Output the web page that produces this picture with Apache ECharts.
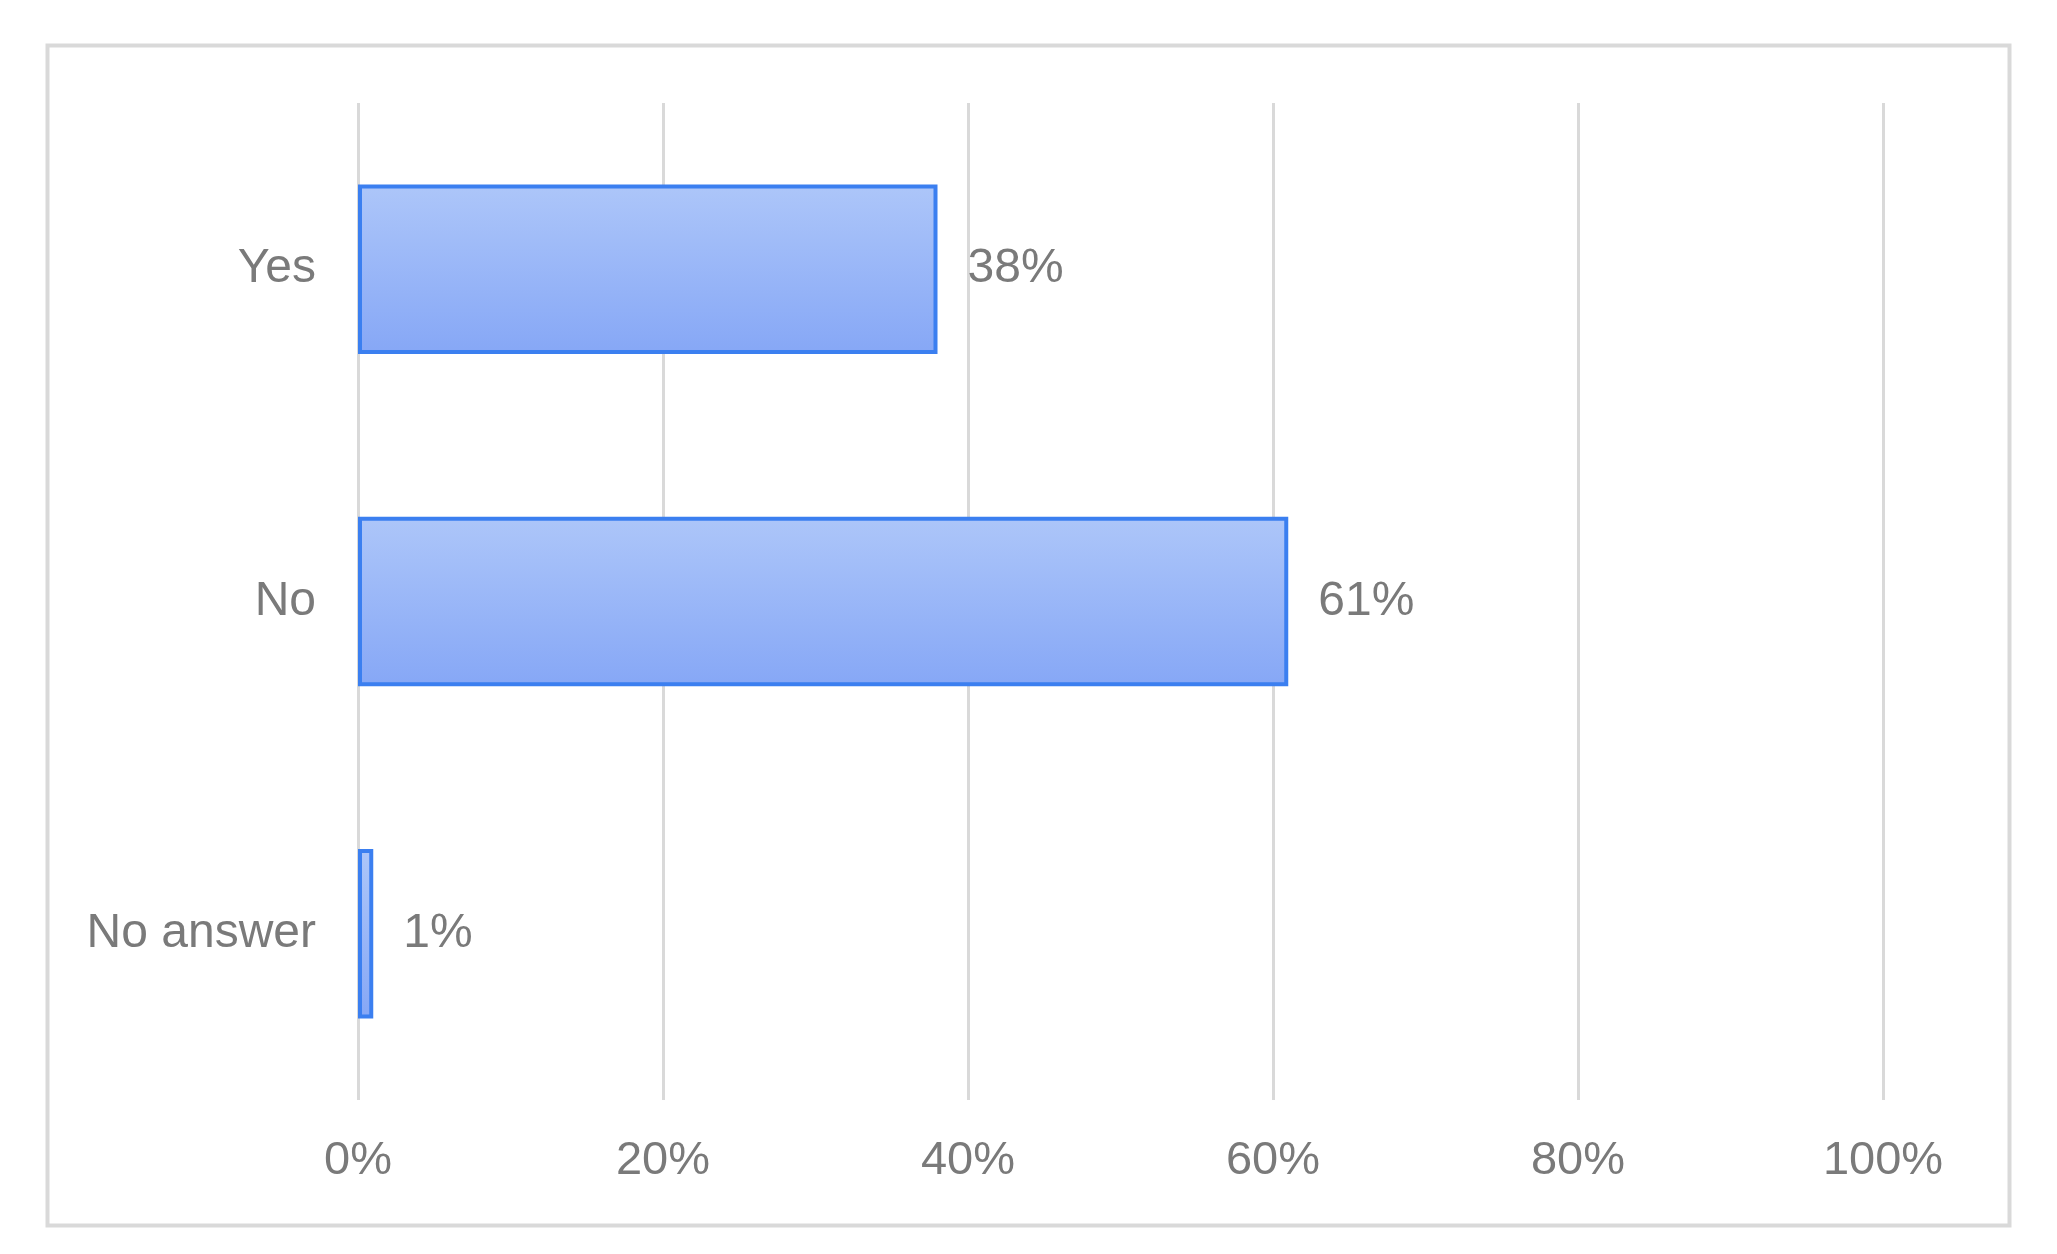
<!DOCTYPE html>
<html>
<head>
<meta charset="utf-8">
<script src="https://cdn.jsdelivr.net/npm/echarts@6/dist/echarts.min.js"></script>
<style>
  html, body { margin: 0; padding: 0; background: #fff; }
  #chart { width: 2057px; height: 1254px; }
</style>
</head>
<body>
<div id="chart"></div>
<script>
var categories = ['Yes', 'No', 'No answer'];
var shares = [38, 61, 1];
var tickValues = [0, 20, 40, 60, 80, 100];

var myChart = echarts.init(document.getElementById('chart'));
var textFont = 'Liberation Sans, Arial, sans-serif';

var option = {
  backgroundColor: '#fff',
  animation: false,
  graphic: [{
    type: 'rect',
    left: 45, top: 43,
    shape: { width: 1962, height: 1180 },
    style: { fill: 'none', stroke: '#d9d9d9', lineWidth: 4 }
  }],
  grid: { left: 358, right: 174, top: 103, bottom: 154 },
  xAxis: {
    type: 'value',
    min: tickValues[0],
    max: tickValues[tickValues.length - 1],
    interval: 20,
    axisLine: { show: false },
    axisTick: { show: false },
    splitLine: { lineStyle: { color: '#d9d9d9', width: 3 } },
    axisLabel: {
      formatter: '{value}%',
      color: '#7a7a7a',
      fontSize: 47,
      fontFamily: textFont,
      margin: 38
    }
  },
  yAxis: {
    type: 'category',
    data: categories,
    inverse: true,
    axisLine: { show: false },
    axisTick: { show: false },
    axisLabel: {
      color: '#7a7a7a',
      fontSize: 48,
      fontFamily: textFont,
      margin: 42,
      padding: [4, 0, 0, 0]
    }
  },
  series: [{
    type: 'bar',
    data: shares,
    barCategoryGap: '49%',
    itemStyle: {
      color: new echarts.graphic.LinearGradient(0, 0, 0, 1, [
        { offset: 0, color: '#adc6f9' },
        { offset: 1, color: '#86a7f6' }
      ]),
      borderColor: '#3b7ff0',
      borderWidth: 4
    },
    label: {
      show: true,
      position: 'right',
      distance: 30,
      padding: [8, 0, 0, 0],
      formatter: '{c}%',
      color: '#7a7a7a',
      fontSize: 48,
      fontFamily: textFont
    }
  }]
};

// draw
myChart.setOption(option);
</script>
</body>
</html>
